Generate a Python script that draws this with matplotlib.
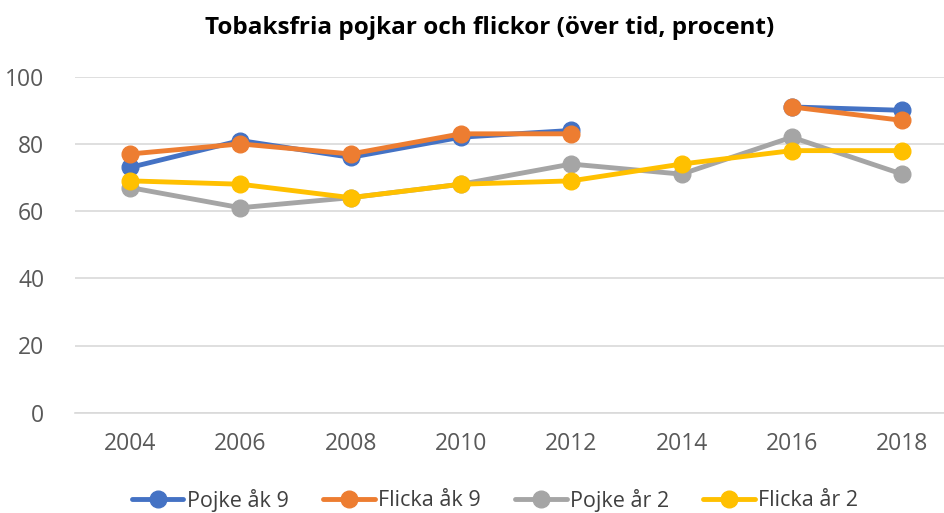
import numpy as np
import matplotlib
matplotlib.use('Agg')
import matplotlib.pyplot as plt

plt.rcParams['font.family'] = ['Open Sans', 'DejaVu Sans']

years = ['2004', '2006', '2008', '2010', '2012', '2014', '2016', '2018']
pojke_ak9 = [73, 81, 76, 82, 84, np.nan, 91, 90]
flicka_ak9 = [77, 80, 77, 83, 83, np.nan, 91, 87]
pojke_ar2 = [67, 61, 64, 68, 74, 71, 82, 71]
flicka_ar2 = [69, 68, 64, 68, 69, 74, 78, 78]

series = [
    ('Pojke åk 9', pojke_ak9, '#4472C4'),
    ('Flicka åk 9', flicka_ak9, '#ED7D31'),
    ('Pojke år 2', pojke_ar2, '#A5A5A5'),
    ('Flicka år 2', flicka_ar2, '#FFC000'),
]

fig = plt.figure(figsize=(9.44, 5.13), dpi=100)
ax = fig.add_axes([75 / 944, 1 - 412.7 / 513, 1 - 75 / 944, (412.7 - 76.7) / 513])

x = np.arange(len(years))
for label, vals, col in series:
    ax.plot(x, vals, '-o', color=col, lw=3.5, ms=12, label=label,
            solid_capstyle='round', zorder=3)

ax.set_ylim(0, 100)
ax.set_yticks(range(0, 101, 20))
ax.set_xlim(-0.5, (944 - 130) / 110.3)
ax.set_xticks(x)
ax.set_xticklabels(years)
ax.grid(axis='y', color='#D9D9D9', lw=1.2)
ax.set_axisbelow(True)
for s in ['top', 'right', 'left']:
    ax.spines[s].set_visible(False)
ax.spines['bottom'].set_color('#D9D9D9')
ax.spines['bottom'].set_linewidth(1.2)
ax.tick_params(length=0, labelsize=16.5, labelcolor='#595959')
ax.tick_params(axis='x', pad=14)
ax.tick_params(axis='y', pad=22)

fig.text(490 / 944, 1 - 28 / 513, 'Tobaksfria pojkar och flickor (över tid, procent)',
         ha='center', va='center', fontsize=17.5, fontweight='bold', color='black')

fig.legend(loc='center', bbox_to_anchor=(495 / 944, 1 - 500 / 513), ncol=4,
           frameon=False, fontsize=15.5, handlelength=2.4, handletextpad=0.15,
           columnspacing=1.6, labelcolor='#404040')

fig.savefig('out.png', dpi=100)
